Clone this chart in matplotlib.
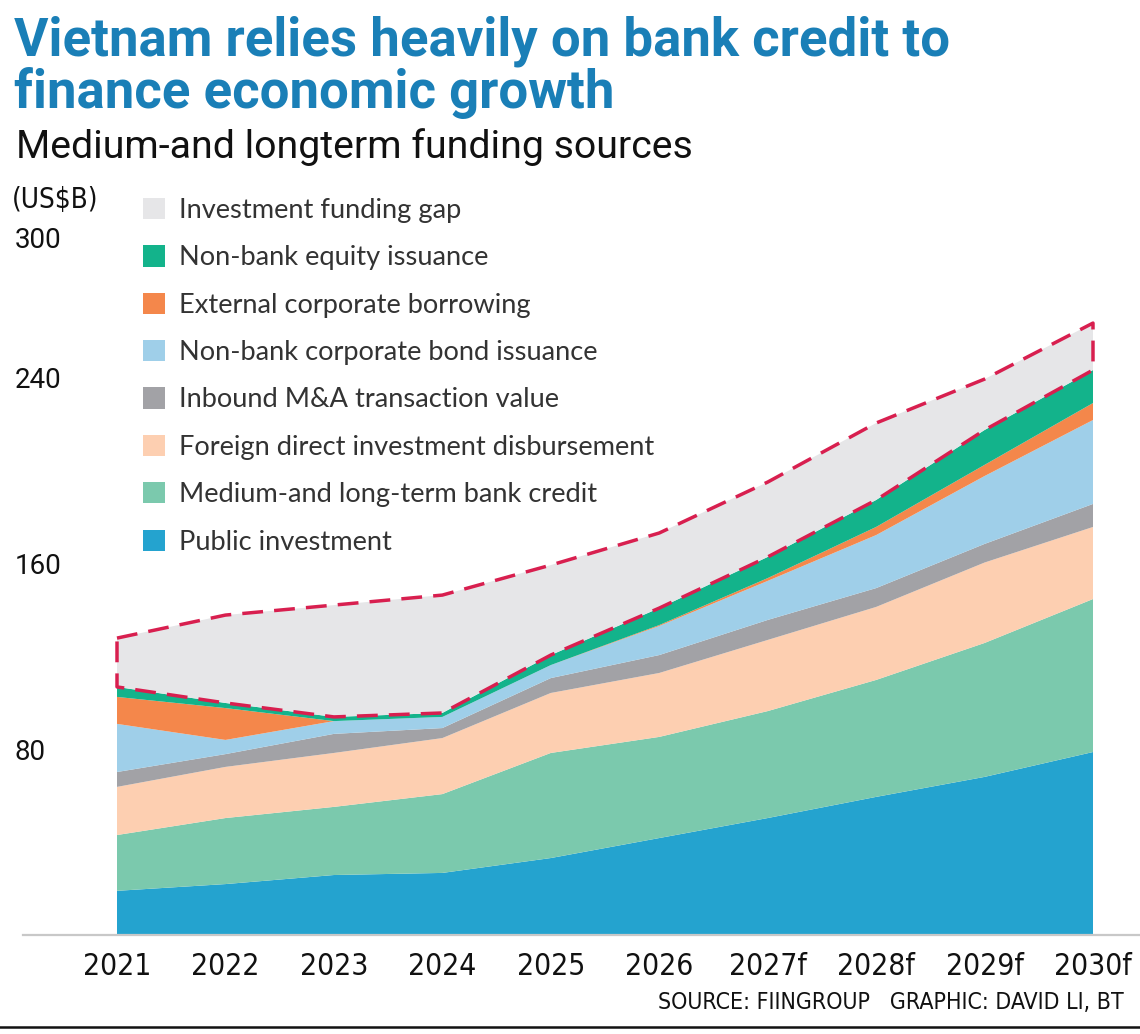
import numpy as np
import matplotlib
matplotlib.use("Agg")
import matplotlib.pyplot as plt
from matplotlib.patches import Patch

# Data (US$B)
years = ["2021", "2022", "2023", "2024", "2025", "2026", "2027f", "2028f", "2029f", "2030f"]
public_inv = [19.0, 21.9, 25.8, 26.7, 33.1, 41.7, 50.3, 59.4, 68.0, 78.7]
bank_credit = [24.0, 28.4, 29.3, 33.9, 45.2, 43.5, 46.0, 50.3, 57.6, 65.8]
fdi = [20.7, 22.0, 23.2, 24.1, 25.8, 27.5, 30.6, 31.4, 34.6, 31.0]
m_and_a = [6.4, 5.5, 8.2, 4.3, 6.4, 7.7, 8.6, 8.1, 8.0, 9.9]
bond = [20.7, 6.1, 5.5, 4.8, 5.6, 12.5, 16.8, 22.8, 29.2, 36.1]
ext_borrow = [11.6, 13.7, 0.0, 0.0, 0.0, 0.4, 1.2, 3.5, 4.8, 7.3]
equity = [4.3, 2.2, 1.8, 1.7, 4.3, 7.3, 9.1, 11.6, 15.0, 14.2]
funding_gap = [21.0, 37.8, 48.1, 50.7, 38.7, 32.3, 32.2, 33.1, 21.9, 20.2]

labels = ["Public investment",
          "Medium-and long-term bank credit",
          "Foreign direct investment disbursement",
          "Inbound M&A transaction value",
          "Non-bank corporate bond issuance",
          "External corporate borrowing",
          "Non-bank equity issuance",
          "Investment funding gap"]
colors = ["#24a3cf", "#7bc9ad", "#fdcfb1", "#a2a2a6",
          "#9fcfe9", "#f4874b", "#13b38b", "#e6e6e8"]
yticks = [80, 160, 240, 300]

W, H = 1140, 1034
fig = plt.figure(figsize=(W / 100, H / 100), dpi=100)
narrow = dict(family=["DejaVu Sans"], stretch="condensed")

# axes placed so that 2021 sits at x=117px and 2030f at x=1093px, baseline y=935px
ax = fig.add_axes([23 / W, (H - 935) / H, (W - 23) / W, (935 - 180) / H])
x = np.arange(len(years))
layers = [public_inv, bank_credit, fdi, m_and_a, bond, ext_borrow, equity, funding_gap]
ax.stackplot(x, layers, colors=colors, linewidth=0)

px_per = (1093 - 117) / 9
ax.set_xlim(-(117 - 23) / px_per, 9 + (1140 - 1093) / px_per)
ax.set_ylim(0, (935 - 180) / 2.325)

# dashed outline around the funding gap
stack_top = np.sum(layers[:-1], axis=0)
total = stack_top + np.array(funding_gap)
ox = np.concatenate([x, x[::-1], [x[0]]])
oy = np.concatenate([total, stack_top[::-1], [total[0]]])
ax.plot(ox, oy, color="#d81f4f", lw=2.5, linestyle=(0, (6, 3.2)),
        solid_joinstyle="miter", zorder=5)

for s in ["top", "right", "left"]:
    ax.spines[s].set_visible(False)
ax.spines["bottom"].set_color("#c8c8c8")
ax.spines["bottom"].set_linewidth(1.6)

ax.set_xticks(x)
ax.set_xticklabels(years, fontsize=21.5, color="#111111", **narrow)
ax.tick_params(axis="x", length=0, pad=12)
ax.set_yticks(yticks)
ax.set_yticklabels([str(t) for t in yticks], family=["Roboto", "DejaVu Sans"],
                   fontsize=20, color="#111111", ha="left")
ax.tick_params(axis="y", length=0, pad=6)

handles = [Patch(facecolor=c, edgecolor="none") for c in colors[::-1]]
ax.legend(handles, labels[::-1], loc="upper left",
          bbox_to_anchor=(143 / W, 1 - 198 / H), bbox_transform=fig.transFigure,
          frameon=False, prop={"family": ["Lato", "DejaVu Sans"], "size": 19.6},
          handlelength=0.82, handleheight=0.82, handletextpad=0.5,
          labelspacing=0.82, borderpad=0, borderaxespad=0, labelcolor="#333333")

# titles and notes
title_font = dict(family=["Roboto", "DejaVu Sans"], weight="bold", fontsize=38,
                  color="#1a7fb7", va="center")
fig.text(14 / W, 1 - 41 / H, "Vietnam relies heavily on bank credit to", **title_font)
fig.text(14 / W, 1 - 93 / H, "finance economic growth", **title_font)
fig.text(16 / W, 1 - 147 / H, "Medium-and longterm funding sources",
         family=["Roboto", "DejaVu Sans"], fontsize=28.3, color="#111111", va="center")
fig.text(12 / W, 1 - 200 / H, "(US$B)", fontsize=20, color="#111111", va="center", **narrow)
fig.text(1124 / W, 1 - 1003 / H, "SOURCE: FIINGROUP   GRAPHIC: DAVID LI, BT",
         fontsize=16.6, color="#111111", ha="right", va="center", **narrow)
fig.add_artist(plt.Line2D([0, 1], [1 - 1027 / H, 1 - 1027 / H],
                          transform=fig.transFigure, color="#111111", lw=1.8))

fig.savefig("out.png", dpi=100, facecolor="white")
